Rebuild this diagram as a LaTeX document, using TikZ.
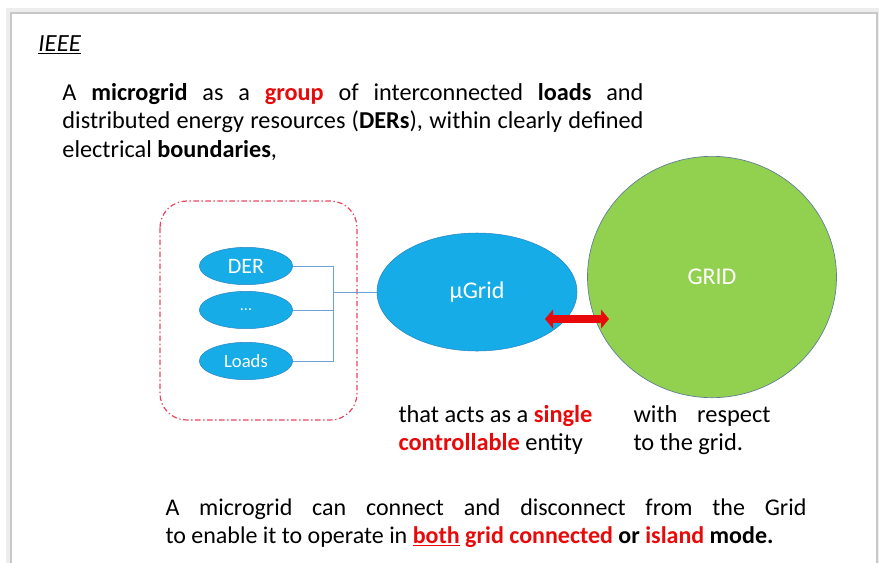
\documentclass[tikz,border=0pt]{standalone}
\usepackage{fontspec}
\setmainfont{Carlito}
\usetikzlibrary{shapes.geometric,arrows.meta}
\definecolor{ugblue}{RGB}{22,172,232}
\definecolor{ugedge}{RGB}{45,135,195}
\definecolor{gridgreen}{RGB}{146,208,80}
\definecolor{gridedge}{RGB}{95,125,150}
\definecolor{keyred}{RGB}{232,10,10}
\definecolor{boxred}{RGB}{230,70,95}
\definecolor{wireblue}{RGB}{110,160,215}
\tikzset{every picture/.style={line width=0.75pt}}
\tikzset{
  member/.style={ellipse,fill=ugblue,draw=ugedge,line width=0.4pt,minimum width=70pt,minimum height=28pt,inner sep=0pt,text=white},
  wire/.style={wireblue,line width=0.6pt},
  para/.style={inner sep=0pt,anchor=base west,align=justify},
  linkarrow/.style={keyred,line width=6pt,{Triangle[width=14pt,length=6pt]}-{Triangle[width=14pt,length=6pt]}}
}
\newcommand{\kw}[1]{\textbf{#1}}
\newcommand{\hl}[1]{\textcolor{keyred}{\textbf{#1}}}

\begin{document}
\begin{tikzpicture}[x=0.75pt,y=0.75pt,yscale=-1,xscale=1]
\useasboundingbox (0,0) rectangle (879,562);
% slide frame
\draw[black!7,line width=4pt] (9,600) -- (9,11) -- (879,11) -- (879,600);
\draw[black!22,line width=1.2pt] (11,600) -- (11,13) -- (877,13) -- (877,600);

\draw (38,51) node [para] (src) {\fontsize{18.5}{21}\selectfont\textit{\underline{IEEE}}};
\draw (62,100) node [para,text width=435.75pt,font=\fontsize{18.2}{21.4}\selectfont] (intro) {A \kw{microgrid} as a \hl{group} of interconnected \kw{loads} and\linebreak distributed energy resources (\kw{DERs}), within clearly defined\linebreak electrical \kw{boundaries},};

% group of members
\draw[boxred,line width=0.9pt,dash pattern=on 4pt off 2pt on 1pt off 2pt,rounded corners=20pt] (160,201) rectangle (357,420);
\draw (246,266) node [member,font=\fontsize{16.5}{19}\selectfont] (der) {DER};
\draw (246,310) node [member,font=\fontsize{12}{14}\selectfont] (dots) {...};
\draw (246,361) node [member,font=\fontsize{14}{16}\selectfont] (loads) {Loads};
\coordinate (bus) at (333,292);
\draw[wire] (der.east) -| (bus);
\draw[wire] (loads.east) -| (bus);
\draw[wire] (dots.east) -- (dots.east -| bus);

\draw (477,292) node [ellipse,fill=ugblue,draw=ugedge,line width=0.4pt,minimum width=150pt,minimum height=88.5pt,inner sep=0pt,text=white,font=\fontsize{18}{21}\selectfont] (ugrid) {µGrid};
\draw[wire] (bus) -- (ugrid.west);

\draw (712,277) node [ellipse,fill=gridgreen,draw=gridedge,line width=0.5pt,minimum width=186.75pt,minimum height=181pt,inner sep=0pt,text=white,font=\fontsize{18}{21}\selectfont] (grid) {GRID};

\coordinate (linkL) at (545,319);
\coordinate (linkR) at (609,319);
\draw[linkarrow] (linkL) -- (linkR);

\draw (398,422) node [para,align=flush left,text width=165pt,font=\fontsize{18.3}{21}\selectfont] (acts) {that acts as a \hl{single}\\\hl{controllable} entity};
\draw (633,422) node [para,align=flush left,text width=102.75pt,font=\fontsize{18.3}{21}\selectfont] (respect) {with\hfill respect\\to the grid.};

\draw (165,515) node [para,text width=480.75pt,font=\fontsize{18}{21.5}\selectfont] (modes) {A microgrid can connect and disconnect from the Grid\linebreak to enable it to operate in \textcolor{keyred}{\textbf{\underline{both}}} \hl{grid connected} \kw{or} \hl{island} \kw{mode.}};
\end{tikzpicture}
\end{document}
